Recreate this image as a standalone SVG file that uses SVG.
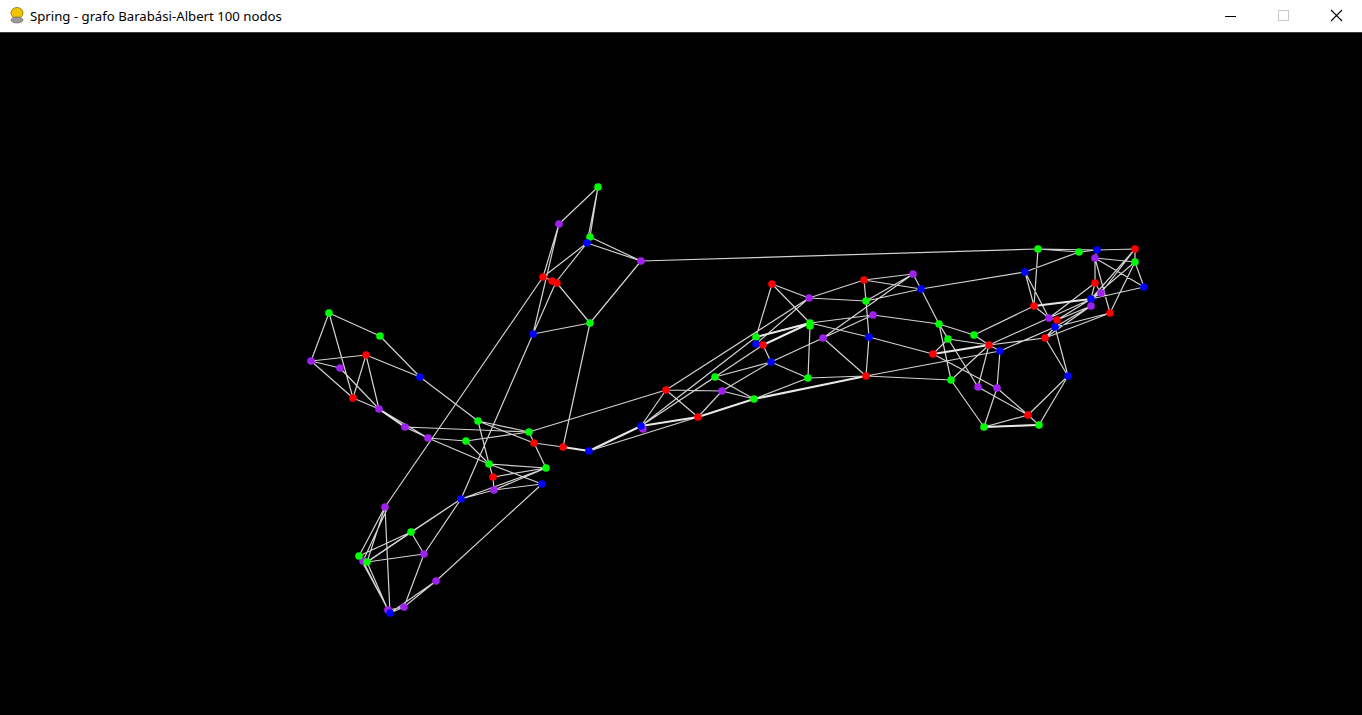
<svg xmlns="http://www.w3.org/2000/svg" width="1362" height="715" viewBox="0 0 1362 715">
<style>
.e{stroke:#d2d2d2;stroke-width:1.2;fill:none}
.t{stroke:#e8e8e8;stroke-width:2;fill:none}
.g{fill:#00ff00}.r{fill:#ff0000}.b{fill:#0000ff}.p{fill:#a020f0}
circle{r:3.8px}
.title{font-family:"Segoe UI","Noto Sans","Liberation Sans",sans-serif;font-size:13.2px;fill:#000}
</style>
<rect x="0" y="0" width="1362" height="715" fill="#000"/>
<g id="titlebar">
<rect x="0" y="0" width="1362" height="32" fill="#fff"/>
<rect x="0" y="32" width="1362" height="1" fill="#3a3a3a"/>
<ellipse cx="17" cy="13" rx="6" ry="5.5" fill="#f0c400" stroke="#8a6d00" stroke-width="0.8"/>
<ellipse cx="17" cy="20" rx="6" ry="3" fill="#9a9a9a" stroke="#555" stroke-width="0.6"/>
<text class="title" x="30" y="21">Spring - grafo Barabási-Albert 100 nodos</text>
<line x1="1225" y1="16.5" x2="1236" y2="16.5" stroke="#000" stroke-width="1"/>
<rect x="1278.5" y="10.5" width="10" height="10" fill="none" stroke="#c8c8c8" stroke-width="1"/>
<path d="M1331 10 L1342 21 M1342 10 L1331 21" stroke="#000" stroke-width="1.1"/>
</g>
<g id="edges">
<path class="e" d="M329 313L380 336M329 313L311 361M329 313L353 398M380 336L420 377M311 361L366 355M311 361L340 368M311 361L353 398M340 368L379 409M366 355L353 398M366 355L379 409M366 355L420 377M420 377L478 421M353 398L379 409M379 409L428 438M405 427L428 438M405 427L529 432M428 438L466 441M428 438L489 464"/>
<path class="t" d="M379 409L405 427"/>
<path class="e" d="M478 421L529 432M478 421L489 464M478 421L534 443M466 441L529 432M466 441L489 464M529 432L534 443M529 432L666 390M534 443L563 447M534 443L546 468M563 447L590 323M489 464L493 477M489 464L546 468M489 464L542 484M493 477L494 490M493 477L546 468M494 490L546 468M494 490L542 484M461 499L494 490M461 499L546 468M461 499L533 334M461 499L411 532M461 499L424 554M461 499L367 562M542 484L436 581"/>
<path class="t" d="M563 447L589 451M589 451L641 426"/>
<path class="e" d="M589 451L698 417"/>
<path class="e" d="M543 277L385 507M385 507L359 556M385 507L367 562M385 507L390 613M388 507L363 561M411 532L359 556M411 532L424 554M411 532L367 562M367 562L424 554M424 554L404 607M436 581L404 607M436 581L390 613M359 556L390 613M367 562L388 610M388 610L404 607M390 613L404 607M363 561L388 610"/>
<path class="e" d="M598 187L559 224M598 187L590 237M598 187L587 243M559 224L543 277M559 224L533 334M590 237L641 261M587 243L641 261M587 243L543 277M587 243L556 282M543 277L556 282M556 282L590 323M556 282L533 334M533 334L590 323M590 323L641 261M641 261L1038 249"/>
<path class="e" d="M641 426L666 390M641 426L715 377M641 426L756 337M641 426L763 345M666 390L722 391M666 390L698 417M666 390L809 298M715 377L754 399M715 377L771 362M722 391L771 362M722 391L754 399M722 391L698 417M754 399L808 378M756 337L810 323M763 345L771 362M756 337L772 284M771 362L808 378M771 362L823 338M808 378L810 326M808 378L866 376M772 284L809 298M772 284L810 323M809 298L864 280M809 298L866 301M809 298L756 344M864 280L866 301M864 280L913 274M864 280L921 289M866 301L913 274M866 301L921 289M913 274L921 289M913 274L823 338M866 301L869 337M869 337L866 376M810 323L869 337M810 323L873 315M873 315L823 338M823 338L866 376M873 315L939 324M869 337L933 354M866 376L951 380M866 376L1000 351"/>
<path class="t" d="M641 426L698 417M698 417L754 399M754 399L866 376M763 345L810 323M756 337L810 323"/>
<path class="e" d="M921 289L939 324M921 289L1025 272M939 324L948 339M939 324L951 380M939 324L978 387M939 324L974 335M948 339L989 345M933 354L948 339M951 380L989 345M951 380L984 427M974 335L989 345M974 335L1034 306M989 345L1000 351M989 345L978 387M989 345L1045 338M989 345L1049 318M1000 351L997 388M1000 351L1055 327M978 387L1028 415M997 388L1028 415M997 388L984 427M984 427L1028 415M984 427L1039 425M1028 415L1039 425M1028 415L1068 376M1039 425L1068 376M1068 376L1045 338M1068 376L1055 327M933 354L997 388"/>
<path class="t" d="M933 354L989 345M984 427L1039 425"/>
<path class="e" d="M1038 249L1079 252M1038 249L1097 250M1038 249L1034 306M1079 252L1097 250M1097 250L1135 249M1079 252L1025 272M1097 250L1095 258M1095 258L1095 283M1095 258L1135 262M1095 258L1144 287M1095 258L1110 313M1135 249L1135 262M1135 249L1091 299M1135 249L1101 293M1135 262L1144 287M1135 262L1110 313M1135 262L1091 299M1144 287L1091 299M1095 283L1101 293M1095 283L1091 299M1095 283L1049 318M1025 272L1034 306M1025 272L1049 318M1034 306L1049 318M1091 299L1049 318M1101 293L1057 320M1091 306L1057 320M1091 306L1055 327M1091 299L1057 320M1110 313L1055 327M1049 318L1057 320M1057 320L1055 327M1110 313L1045 338M1091 306L1045 338M1045 338L1055 327"/>
<path class="t" d="M1034 306L1091 299"/>
</g>
<g id="n1"><circle class="g" cx="329" cy="313" r="3.8"/></g>
<g id="n2"><circle class="g" cx="380" cy="336" r="3.8"/></g>
<g id="n3"><circle class="p" cx="311" cy="361" r="3.8"/></g>
<g id="n4"><circle class="r" cx="366" cy="355" r="3.8"/></g>
<g id="n5"><circle class="p" cx="340" cy="368" r="3.8"/></g>
<g id="n6"><circle class="b" cx="420" cy="377" r="3.8"/></g>
<g id="n7"><circle class="r" cx="353" cy="398" r="3.8"/></g>
<g id="n8"><circle class="p" cx="379" cy="409" r="3.8"/></g>
<g id="n9"><circle class="p" cx="405" cy="427" r="3.8"/></g>
<g id="n10"><circle class="p" cx="428" cy="438" r="3.8"/></g>
<g id="n11"><circle class="g" cx="478" cy="421" r="3.8"/></g>
<g id="n12"><circle class="g" cx="466" cy="441" r="3.8"/></g>
<g id="n13"><circle class="g" cx="529" cy="432" r="3.8"/></g>
<g id="n14"><circle class="r" cx="534" cy="443" r="3.8"/></g>
<g id="n15"><circle class="g" cx="489" cy="464" r="3.8"/></g>
<g id="n16"><circle class="r" cx="493" cy="477" r="3.8"/></g>
<g id="n17"><circle class="p" cx="494" cy="490" r="3.8"/></g>
<g id="n18"><circle class="b" cx="461" cy="499" r="3.8"/></g>
<g id="n19"><circle class="g" cx="546" cy="468" r="3.8"/></g>
<g id="n20"><circle class="b" cx="542" cy="484" r="3.8"/></g>
<g id="n21"><circle class="r" cx="563" cy="447" r="3.8"/></g>
<g id="n22"><circle class="b" cx="589" cy="451" r="3.8"/></g>
<g id="n23"><circle class="p" cx="385" cy="507" r="3.8"/></g>
<g id="n24"><circle class="g" cx="411" cy="532" r="3.8"/></g>
<g id="n25"><circle class="p" cx="363" cy="561" r="3.8"/></g>
<g id="n26"><circle class="g" cx="359" cy="556" r="3.8"/></g>
<g id="n27"><circle class="g" cx="367" cy="562" r="3.8"/></g>
<g id="n28"><circle class="p" cx="424" cy="554" r="3.8"/></g>
<g id="n29"><circle class="p" cx="436" cy="581" r="3.8"/></g>
<g id="n30"><circle class="p" cx="388" cy="610" r="3.8"/></g>
<g id="n31"><circle class="b" cx="390" cy="613" r="3.8"/></g>
<g id="n32"><circle class="p" cx="404" cy="607" r="3.8"/></g>
<g id="n33"><circle class="g" cx="598" cy="187" r="3.8"/></g>
<g id="n34"><circle class="p" cx="559" cy="224" r="3.8"/></g>
<g id="n35"><circle class="g" cx="590" cy="237" r="3.8"/></g>
<g id="n36"><circle class="b" cx="587" cy="243" r="3.8"/></g>
<g id="n37"><circle class="p" cx="641" cy="261" r="3.8"/></g>
<g id="n38"><circle class="r" cx="543" cy="277" r="3.8"/></g>
<g id="n39"><circle class="r" cx="552" cy="281" r="3.8"/></g>
<g id="n40"><circle class="r" cx="557" cy="283" r="3.8"/></g>
<g id="n41"><circle class="g" cx="590" cy="323" r="3.8"/></g>
<g id="n42"><circle class="b" cx="533" cy="334" r="3.8"/></g>
<g id="n43"><circle class="p" cx="643" cy="429" r="3.8"/></g>
<g id="n44"><circle class="b" cx="641" cy="426" r="3.8"/></g>
<g id="n45"><circle class="r" cx="666" cy="390" r="3.8"/></g>
<g id="n46"><circle class="g" cx="715" cy="377" r="3.8"/></g>
<g id="n47"><circle class="p" cx="722" cy="391" r="3.8"/></g>
<g id="n48"><circle class="r" cx="698" cy="417" r="3.8"/></g>
<g id="n49"><circle class="g" cx="754" cy="399" r="3.8"/></g>
<g id="n50"><circle class="g" cx="756" cy="337" r="3.8"/></g>
<g id="n51"><circle class="b" cx="756" cy="344" r="3.8"/></g>
<g id="n52"><circle class="r" cx="763" cy="345" r="3.8"/></g>
<g id="n53"><circle class="b" cx="771" cy="362" r="3.8"/></g>
<g id="n54"><circle class="g" cx="810" cy="323" r="3.8"/></g>
<g id="n55"><circle class="g" cx="810" cy="326" r="3.8"/></g>
<g id="n56"><circle class="p" cx="823" cy="338" r="3.8"/></g>
<g id="n57"><circle class="g" cx="808" cy="378" r="3.8"/></g>
<g id="n58"><circle class="r" cx="772" cy="284" r="3.8"/></g>
<g id="n59"><circle class="p" cx="809" cy="298" r="3.8"/></g>
<g id="n60"><circle class="r" cx="864" cy="280" r="3.8"/></g>
<g id="n61"><circle class="p" cx="913" cy="274" r="3.8"/></g>
<g id="n62"><circle class="b" cx="921" cy="289" r="3.8"/></g>
<g id="n63"><circle class="g" cx="866" cy="301" r="3.8"/></g>
<g id="n64"><circle class="p" cx="873" cy="315" r="3.8"/></g>
<g id="n65"><circle class="b" cx="869" cy="337" r="3.8"/></g>
<g id="n66"><circle class="r" cx="866" cy="376" r="3.8"/></g>
<g id="n67"><circle class="r" cx="933" cy="354" r="3.8"/></g>
<g id="n68"><circle class="g" cx="939" cy="324" r="3.8"/></g>
<g id="n69"><circle class="g" cx="948" cy="339" r="3.8"/></g>
<g id="n70"><circle class="g" cx="951" cy="380" r="3.8"/></g>
<g id="n71"><circle class="g" cx="974" cy="335" r="3.8"/></g>
<g id="n72"><circle class="r" cx="989" cy="345" r="3.8"/></g>
<g id="n73"><circle class="b" cx="1000" cy="351" r="3.8"/></g>
<g id="n74"><circle class="p" cx="978" cy="387" r="3.8"/></g>
<g id="n75"><circle class="p" cx="997" cy="388" r="3.8"/></g>
<g id="n76"><circle class="r" cx="1028" cy="415" r="3.8"/></g>
<g id="n77"><circle class="g" cx="984" cy="427" r="3.8"/></g>
<g id="n78"><circle class="g" cx="1039" cy="425" r="3.8"/></g>
<g id="n79"><circle class="b" cx="1068" cy="376" r="3.8"/></g>
<g id="n80"><circle class="g" cx="1038" cy="249" r="3.8"/></g>
<g id="n81"><circle class="g" cx="1079" cy="252" r="3.8"/></g>
<g id="n82"><circle class="b" cx="1097" cy="250" r="3.8"/></g>
<g id="n83"><circle class="r" cx="1135" cy="249" r="3.8"/></g>
<g id="n84"><circle class="p" cx="1095" cy="258" r="3.8"/></g>
<g id="n85"><circle class="g" cx="1135" cy="262" r="3.8"/></g>
<g id="n86"><circle class="b" cx="1025" cy="272" r="3.8"/></g>
<g id="n87"><circle class="b" cx="1144" cy="287" r="3.8"/></g>
<g id="n88"><circle class="r" cx="1095" cy="283" r="3.8"/></g>
<g id="n89"><circle class="p" cx="1101" cy="293" r="3.8"/></g>
<g id="n90"><circle class="b" cx="1091" cy="299" r="3.8"/></g>
<g id="n91"><circle class="p" cx="1091" cy="306" r="3.8"/></g>
<g id="n92"><circle class="r" cx="1110" cy="313" r="3.8"/></g>
<g id="n93"><circle class="r" cx="1034" cy="306" r="3.8"/></g>
<g id="n94"><circle class="p" cx="1049" cy="318" r="3.8"/></g>
<g id="n95"><circle class="r" cx="1057" cy="320" r="3.8"/></g>
<g id="n96"><circle class="b" cx="1055" cy="327" r="3.8"/></g>
<g id="n97"><circle class="r" cx="1045" cy="338" r="3.8"/></g>
</svg>
